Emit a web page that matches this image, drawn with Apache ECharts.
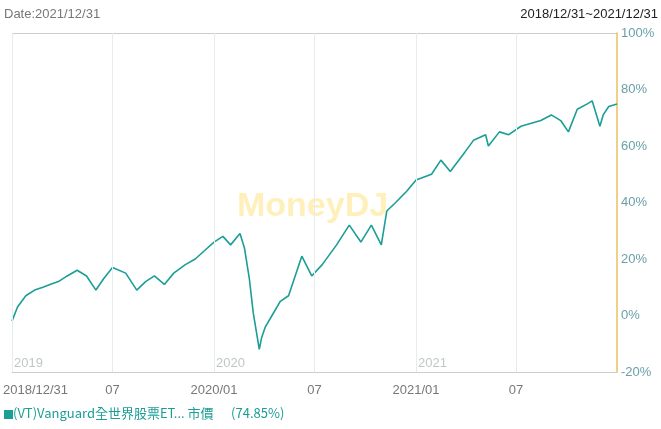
<!DOCTYPE html>
<html><head><meta charset="utf-8">
<script src="https://cdn.jsdelivr.net/npm/echarts@6/dist/echarts.min.js"></script>
<style>html,body{margin:0;padding:0;background:#fff}#c{width:661px;height:429px}</style>
</head><body><div id="c"></div>
<script>
const dates = ['2018-12-31','2019-01-10','2019-01-25','2019-02-10','2019-02-25','2019-03-10','2019-03-25','2019-04-10','2019-04-28','2019-05-15','2019-06-01','2019-06-15','2019-07-01','2019-07-25','2019-08-14','2019-08-30','2019-09-15','2019-10-03','2019-10-20','2019-11-10','2019-11-28','2019-12-15','2020-01-01','2020-01-17','2020-01-31','2020-02-17','2020-02-25','2020-03-05','2020-03-12','2020-03-23','2020-03-27','2020-04-03','2020-04-15','2020-04-30','2020-05-15','2020-06-08','2020-06-26','2020-07-15','2020-08-10','2020-09-02','2020-09-23','2020-10-12','2020-10-30','2020-11-09','2020-11-25','2020-12-15','2021-01-01','2021-01-29','2021-02-15','2021-03-04','2021-03-31','2021-04-15','2021-05-07','2021-05-12','2021-06-01','2021-06-18','2021-07-10','2021-08-15','2021-09-03','2021-09-20','2021-10-04','2021-10-20','2021-11-08','2021-11-16','2021-11-30','2021-12-06','2021-12-16','2021-12-31'];
const values = [-2,3,7,9,10,11,12,14,16,14,9,13,17,15,9,12,14,11,15,18,20,23,26,28,25,29,24,13,1,-12,-8,-4,0,5,7,21,14,18,25,32,26,32,25,37,40,44,48,50,55,51,58,62,64,60,65,64,67,69,71,69,65,73,75,76,67,71,74,74.85];
const tickDates = ['2018-12-31','2019-07-01','2020-01-01','2020-07-01','2021-01-01','2021-07-01'];
const tickLabels = ['2018/12/31','07','2020/01','07','2021/01','07'];
const yearDates = ['2018-12-31','2020-01-01','2021-01-01'];
const yearLabels = ['2019','2020','2021'];

const chart = echarts.init(document.getElementById('c'));
const seriesData = dates.map((d, i) => [d, values[i]]);
chart.setOption({
  animation: false,
  textStyle: {fontFamily: 'Liberation Sans, Arial, sans-serif'},
  grid: {left: 12, right: 44, top: 33, bottom: 57},
  graphic: [
    {type: 'line', shape: {x1: 12, y1: 33.5, x2: 617, y2: 33.5}, style: {stroke: '#ccc'}},
    {type: 'text', left: 4, top: 8, style: {text: 'Date:2021/12/31', fill: '#777', font: '13px Liberation Sans'}},
    {type: 'text', right: 3, top: 8, style: {text: '2018/12/31~2021/12/31', fill: '#222', font: '13px Liberation Sans'}},
    {type: 'text', left: 237, top: 190, style: {text: 'MoneyDJ', fill: 'rgba(255,226,120,0.5)', font: 'bold 34px Liberation Sans'}},
    {type: 'rect', left: 4, top: 410, shape: {width: 9, height: 9}, style: {fill: '#1a9e96'}},
    {type: 'text', left: 13, top: 407, style: {text: '(VT)Vanguard全世界股票ET... 市價      (74.85%)', fill: '#1a9e96', font: '13px "Noto Sans CJK TC", Liberation Sans'}}
  ],
  xAxis: {
    type: 'time', min: '2018-12-31', max: '2021-12-31',
    axisLine: {show: true, onZero: false, lineStyle: {color: '#ccc'}}, axisTick: {show: false},
    axisLabel: {show: false}, splitLine: {show: false}
  },
  yAxis: {
    type: 'value', position: 'right', min: -20, max: 100, interval: 20,
    axisLine: {show: true, lineStyle: {color: '#e8c060', width: 1.5}}, axisTick: {show: false},
    axisLabel: {formatter: '{value}%', color: '#6aa0a8', fontSize: 13, margin: 4},
    splitLine: {show: false}
  },
  series: [
    {
      type: 'line', showSymbol: false, data: seriesData, z: 3,
      lineStyle: {color: '#1a9e96', width: 1.6}, itemStyle: {color: '#1a9e96'},
      markLine: {
        silent: true, symbol: 'none',
        lineStyle: {color: '#e4ecee', type: 'solid', width: 1},
        label: {position: 'start', color: '#777', fontSize: 13, distance: 12},
        data: tickDates.map((d, i) => ({xAxis: d, label: {formatter: tickLabels[i], align: i === 0 ? 'left' : 'center', offset: i === 0 ? [-9, 0] : [0, 0]}}))
      }
    },
    {
      type: 'scatter', silent: true, symbolSize: 0, itemStyle: {color: 'transparent'},
      data: yearDates.map((d, i) => ({value: [d, -20], name: yearLabels[i]})),
      label: {show: true, position: [2, -15], color: '#b0b8b8', fontSize: 13, formatter: p => p.name}
    }
  ]
});
</script></body></html>
